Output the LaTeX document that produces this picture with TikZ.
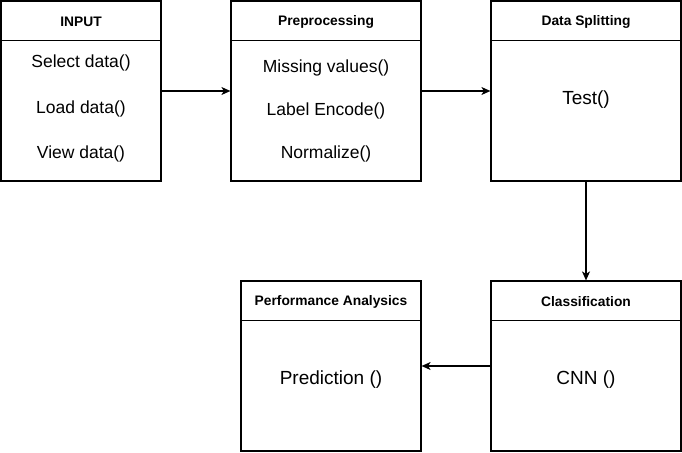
\documentclass[tikz,border=0pt]{standalone}
\usepackage{fontspec}
\setmainfont{Liberation Sans}
\usetikzlibrary{arrows.meta}

\tikzset{
  stage/.style={draw, line width=1.2pt, inner sep=0pt, minimum width=#1},
  head/.style={font=\fontsize{13.8}{16}\selectfont\bfseries},
  item/.style={font=\fontsize{17.5}{20}\selectfont},
  big/.style={font=\fontsize{19}{22}\selectfont},
  flow/.style={line width=1.2pt, -{Stealth[length=9pt,width=8pt,inset=2.5pt]}},
}

\begin{document}
\begin{tikzpicture}[x=1pt, y=-1pt]
  \useasboundingbox (0,0) rectangle (682,452);
  % top row
  \node[stage=160pt, minimum height=180pt] (input) at (81,91) {};
  \node[stage=190pt, minimum height=180pt] (prep) at (326,91) {};
  \node[stage=190pt, minimum height=180pt] (split) at (586,91) {};
  % bottom row
  \node[stage=190pt, minimum height=170pt] (class) at (586,366) {};
  \node[stage=180pt, minimum height=170pt] (perf) at (331,366) {};
  % header rules
  \foreach \n in {input,prep,split,class,perf} {
    \draw[line width=1.2pt] ([yshift=-40pt]\n.north west) -- ([yshift=-40pt]\n.north east);
  }
  % headers
  \node[head] (inputhead) at ([yshift=-21.5pt]input.north) {INPUT};
  \node[head] (prephead) at ([yshift=-21.5pt]prep.north) {Preprocessing};
  \node[head] (splithead) at ([yshift=-21.5pt]split.north) {Data Splitting};
  \node[head] (classhead) at ([yshift=-21.5pt]class.north) {Classification};
  \node[head] (perfhead) at ([yshift=-21.5pt]perf.north) {Performance Analysics};
  % contents
  \node[item] (select) at (81,63) {Select data()};
  \node[item] (load) at (81,108.5) {Load data()};
  \node[item] (view) at (81,154) {View data()};
  \node[item] (missing) at (326,68) {Missing values()};
  \node[item] (encode) at (326,111) {Label Encode()};
  \node[item] (normalize) at (326,154) {Normalize()};
  \node[big] (test) at (586,100) {Test()};
  \node[big] (cnn) at (586,380) {CNN ()};
  \node[big] (prediction) at (331,380) {Prediction ()};
  % connectors
  \draw[flow] (input) -- (prep);
  \draw[flow] (prep) -- (split);
  \draw[flow] (split) -- (class);
  \draw[flow] (class) -- (perf);
\end{tikzpicture}
\end{document}
